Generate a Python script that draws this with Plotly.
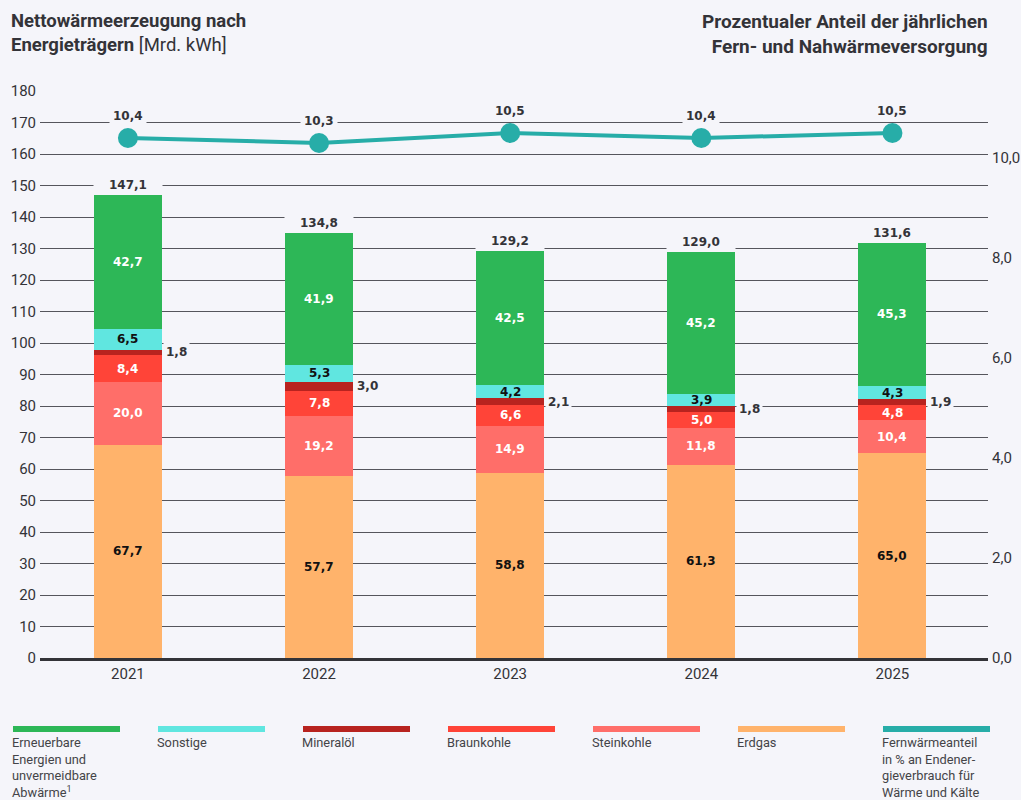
import plotly.graph_objects as go

# ---------------- data ----------------
years = ["2021", "2022", "2023", "2024", "2025"]
erdgas = [67.7, 57.7, 58.8, 61.3, 65.0]
steinkohle = [20.0, 19.2, 14.9, 11.8, 10.4]
braunkohle = [8.4, 7.8, 6.6, 5.0, 4.8]
mineraloel = [1.8, 3.0, 2.1, 1.8, 1.9]
sonstige = [6.5, 5.3, 4.2, 3.9, 4.3]
erneuerbare = [42.7, 41.9, 42.5, 45.2, 45.3]
totals = [147.1, 134.8, 129.2, 129.0, 131.6]
anteil = [10.4, 10.3, 10.5, 10.4, 10.5]

left_ticks = list(range(0, 181, 10))
right_ticks = [0, 2, 4, 6, 8, 10]

legend_labels = [
    "Erneuerbare<br>Energien und<br>unvermeidbare<br>Abwärme<sup>1</sup>",
    "Sonstige",
    "Mineralöl",
    "Braunkohle",
    "Steinkohle",
    "Erdgas",
    "Fernwärmeanteil<br>in % an Endener-<br>gieverbrauch für<br>Wärme und Kälte",
]

# ---------------- styling ----------------
BG = "#f5f5fa"
C_GREEN = "#2db757"
C_CYAN = "#60e6e0"
C_DRED = "#b8231f"
C_BRAUN = "#ff4438"
C_STEIN = "#ff6e69"
C_GAS = "#ffb36b"
C_TEAL = "#27ada8"
TXT = "#333338"
LBL_FONT = "DejaVu Sans"
UI_FONT = "Roboto"

W, H = 1021, 800
ML, MR, MT, MB = 40, 33, 91, 142
PW = W - ML - MR
PH = H - MT - MB
BAR_W = 0.356


def px2paper_x(px):
    return (px - ML) / PW


def px2paper_y(py):
    return (H - MB - py) / PH


def fmt(v):
    return f"{v:.1f}".replace(".", ",")


series = [
    ("Erdgas", erdgas, C_GAS, "#111111"),
    ("Steinkohle", steinkohle, C_STEIN, "#ffffff"),
    ("Braunkohle", braunkohle, C_BRAUN, "#ffffff"),
    ("Mineralöl", mineraloel, C_DRED, None),
    ("Sonstige", sonstige, C_CYAN, "#111111"),
    ("Erneuerbare Energien und unvermeidbare Abwärme", erneuerbare, C_GREEN, "#ffffff"),
]

fig = go.Figure()
for name, vals, col, _ in series:
    fig.add_trace(go.Bar(
        x=years, y=vals, name=name, marker=dict(color=col, line=dict(width=0)),
        width=BAR_W, showlegend=False, hoverinfo="x+y+name",
    ))

fig.add_trace(go.Scatter(
    x=years, y=anteil, yaxis="y2", mode="lines+markers",
    line=dict(color=C_TEAL, width=4),
    marker=dict(color=C_TEAL, size=20),
    showlegend=False, name="Fernwärmeanteil",
))

annotations = []
for i, yr in enumerate(years):
    base = 0.0
    for name, vals, col, tcol in series:
        v = vals[i]
        mid = base + v / 2
        if tcol is None:
            annotations.append(dict(
                x=i + BAR_W / 2, y=mid, xref="x", yref="y", text=fmt(v),
                showarrow=False, xanchor="left", yanchor="middle", xshift=1,
                bgcolor=BG, borderpad=2,
                font=dict(family=LBL_FONT, size=12, color=TXT, weight="bold"),
            ))
        else:
            annotations.append(dict(
                x=i, y=mid, xref="x", yref="y", text=fmt(v), showarrow=False,
                xanchor="center", yanchor="middle",
                font=dict(family=LBL_FONT, size=12, color=tcol, weight="bold"),
            ))
        base += v
    annotations.append(dict(
        x=i, y=totals[i], xref="x", yref="y", text=fmt(totals[i]),
        showarrow=False, xanchor="center", yanchor="bottom", yshift=1,
        bgcolor=BG, borderpad=1, width=66,
        font=dict(family=LBL_FONT, size=12, color=TXT, weight="bold"),
    ))
    annotations.append(dict(
        x=i, y=anteil[i], xref="x", yref="y2", text=fmt(anteil[i]),
        showarrow=False, xanchor="center", yanchor="bottom", yshift=11,
        bgcolor=BG, borderpad=3,
        font=dict(family=LBL_FONT, size=12, color=TXT, weight="bold"),
    ))

# titles
annotations.append(dict(
    x=px2paper_x(9), y=px2paper_y(8), xref="paper", yref="paper",
    text="<b>Nettowärmeerzeugung nach</b><br><b>Energieträgern</b> [Mrd. kWh]",
    showarrow=False, xanchor="left", yanchor="top", align="left",
    font=dict(family=UI_FONT, size=18.5, color=TXT),
))
annotations.append(dict(
    x=px2paper_x(990), y=px2paper_y(8), xref="paper", yref="paper",
    text="<b>Prozentualer Anteil der jährlichen</b><br><b>Fern- und Nahwärmeversorgung</b>",
    showarrow=False, xanchor="right", yanchor="top", align="right",
    font=dict(family=UI_FONT, size=19, color=TXT),
))

# custom legend
legend_colors = [C_GREEN, C_CYAN, C_DRED, C_BRAUN, C_STEIN, C_GAS, C_TEAL]
shapes = []
for k, (lab, col) in enumerate(zip(legend_labels, legend_colors)):
    x0 = 13 + k * 145
    shapes.append(dict(
        type="line", xref="paper", yref="paper",
        x0=px2paper_x(x0), x1=px2paper_x(x0 + 107),
        y0=px2paper_y(729), y1=px2paper_y(729),
        line=dict(color=col, width=6),
    ))
    annotations.append(dict(
        x=px2paper_x(x0 - 3), y=px2paper_y(733), xref="paper", yref="paper",
        text=lab, showarrow=False, xanchor="left", yanchor="top", align="left",
        font=dict(family=UI_FONT, size=12.8, color="#444448"),
    ))

fig.update_layout(
    width=W, height=H, autosize=False,
    margin=dict(l=ML, r=MR, t=MT, b=MB, pad=0),
    paper_bgcolor=BG, plot_bgcolor=BG,
    barmode="stack", bargap=0,
    separators=",.",
    font=dict(family=UI_FONT, size=15, color=TXT),
    xaxis=dict(
        type="category", range=[-0.46, 4.5], showgrid=False,
        showline=True, linecolor="#333338", linewidth=3,
        ticks="", tickfont=dict(family=UI_FONT, size=15, color=TXT),
        zeroline=False, automargin=False,
    ),
    yaxis=dict(
        range=[0, 180], tickvals=left_ticks, showgrid=True,
        gridcolor="#55555c", gridwidth=1, zeroline=False, ticks="",
        tickfont=dict(family=UI_FONT, size=15, color=TXT),
        ticklabelstandoff=3, automargin=False,
    ),
    yaxis2=dict(
        range=[0, 11.34], overlaying="y", side="right", tickvals=right_ticks,
        tickformat=".1f", showgrid=False, zeroline=False, ticks="",
        tickfont=dict(family=UI_FONT, size=15, color=TXT),
        ticklabelstandoff=3, automargin=False,
    ),
    annotations=annotations,
    shapes=shapes,
)

fig.write_html(
    "out.html",
    config={"displayModeBar": False},
    post_script="document.body.style.margin='0';document.body.style.background='%s';" % BG,
)
